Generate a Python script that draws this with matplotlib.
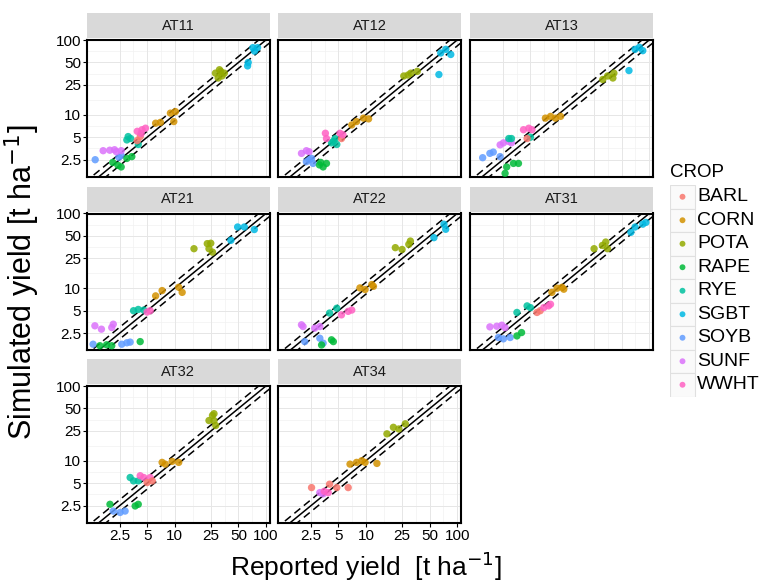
import numpy as np
import matplotlib
matplotlib.use("Agg")
import matplotlib.pyplot as plt
from matplotlib.patches import Rectangle

plt.rcParams["font.family"] = ["Liberation Sans", "DejaVu Sans"]

# ---------------- DATA ----------------

CROPS = ["BARL", "CORN", "POTA", "RAPE", "RYE", "SGBT", "SOYB", "SUNF", "WWHT"]
CROP_COLORS = ["#F8766D", "#D39200", "#93AA00", "#00BA38", "#00C19F",
               "#00B9E3", "#619CFF", "#DB72FB", "#FF61C3"]

PANELS = ["AT11", "AT12", "AT13", "AT21", "AT22", "AT31", "AT32", "AT34"]

AT11_CROP = ["SOYB"] * 3 + ["SUNF"] * 5 + ["RAPE"] * 5 + ["RYE"] * 4 + ["BARL"] * 2 + \
    ["WWHT"] * 4 + ["CORN"] * 5 + ["POTA"] * 6 + ["SGBT"] * 5
AT11_REP = [1.35, 2.45, 2.6, 1.65, 1.95, 2.2, 2.6, 2.3, 2.1, 2.6, 3.0, 3.4, 2.4,
            3.0, 3.1, 4.0, 3.3, 4.2, 3.9, 3.9, 4.4, 4.8, 4.3, 6.2, 7.0, 9.0, 10.2, 9.8,
            28, 32, 33, 35, 30, 31, 63, 72, 81, 75, 64]
AT11_SIM = [2.5, 2.7, 2.85, 3.3, 3.35, 3.4, 3.3, 3.2, 2.3, 2.0, 2.6, 2.75, 2.1,
            4.6, 5.1, 4.0, 4.8, 5.1, 4.5, 6.0, 6.3, 6.6, 5.6, 7.7, 7.9, 10.5, 11, 8.1,
            36, 38, 33, 36, 31, 40, 45, 79, 79, 71, 50]

AT12_CROP = ["SUNF"] * 3 + ["SOYB"] * 4 + ["RAPE"] * 4 + ["RYE"] * 4 + ["BARL"] + \
    ["WWHT"] * 4 + ["CORN"] * 4 + ["POTA"] * 4 + ["SGBT"] * 4
AT12_REP = [1.97, 2.23, 2.39, 2.23, 2.54, 2.64, 2.4, 3.1, 3.4, 3.7, 3.2,
            4.4, 4.6, 4.8, 4.2, 5.4, 3.6, 3.7, 5.2, 5.6, 7.0, 7.9, 9.4, 10.7,
            26, 31, 36.5, 29, 63, 66, 75, 85]
AT12_SIM = [3.04, 3.3, 3.2, 2.35, 2.6, 2.23, 2.5, 2.13, 2.0, 2.23, 2.3,
            4.4, 4.8, 4.0, 4.2, 4.8, 5.65, 4.8, 5.65, 5.4, 7.3, 8.1, 9.0, 8.8,
            33, 36, 38, 34, 34.5, 67, 75, 64]

AT13_CROP = ["SOYB"] * 4 + ["SUNF"] * 4 + ["RYE"] * 3 + ["RAPE"] * 4 + ["WWHT"] * 3 + \
    ["BARL"] + ["CORN"] * 4 + ["POTA"] * 4 + ["SGBT"] * 4
AT13_REP = [1.5, 1.8, 1.96, 2.33, 2.33, 2.53, 2.87, 3.1, 2.9, 3.1, 5.0,
            2.64, 2.75, 3.26, 3.7, 4.2, 4.8, 5.2, 4.6, 7.3, 8.3, 9.4, 10.7,
            31, 35, 40, 41, 60, 70, 78, 85]
AT13_SIM = [2.66, 3.04, 3.16, 2.75, 3.95, 4.2, 4.4, 4.2, 4.8, 4.8, 5.0,
            1.64, 2.0, 2.23, 2.23, 6.3, 6.6, 6.3, 4.8, 9.0, 9.5, 9.0, 9.5,
            29.6, 33, 31, 36, 39, 75, 80, 72]

AT21_CROP = ["SOYB"] * 4 + ["RAPE"] * 4 + ["SUNF"] * 4 + ["RYE"] * 3 + ["WWHT"] * 2 + \
    ["CORN"] * 4 + ["POTA"] * 5 + ["SGBT"] * 4
AT21_REP = [1.28, 2.64, 3.0, 3.26, 1.52, 1.8, 2.05, 4.2, 1.34, 1.58, 2.05, 2.13,
            3.55, 4.0, 4.6, 5.0, 5.4, 6.2, 7.3, 11.1, 12.1,
            16.3, 22.8, 24.9, 23.8, 26, 41.3, 49, 58, 74.6]
AT21_SIM = [1.78, 1.78, 1.86, 1.9, 1.7, 1.75, 1.7, 1.93, 3.14, 2.83, 2.98, 3.3,
            5.0, 5.2, 5.1, 4.8, 5.0, 7.9, 9.3, 10.3, 8.8,
            33.8, 39.5, 40, 33.8, 30.4, 43.7, 66, 66, 61]

AT22_CROP = ["SUNF"] * 4 + ["SOYB"] * 3 + ["RAPE"] * 3 + ["RYE"] * 2 + ["WWHT"] * 3 + \
    ["CORN"] * 4 + ["POTA"] * 4 + ["SGBT"] * 3
AT22_REP = [1.97, 2.05, 2.75, 3.13, 2.14, 3.13, 3.4, 3.27, 4.2, 4.4, 4.0, 4.8,
            5.4, 6.4, 7.0, 8.6, 9.8, 11.6, 12.1, 21, 24.9, 30.7, 29.5, 55.6, 71.6, 74.8]
AT22_SIM = [3.24, 3.07, 2.92, 3.07, 1.93, 2.14, 1.84, 1.74, 2.04, 1.93, 4.65, 5.4,
            4.4, 4.9, 5.1, 10.1, 9.6, 11.2, 10.6, 34.9, 33, 42.8, 38.7, 47.5, 71.8, 61.5]

AT31_CROP = ["SUNF"] * 4 + ["SOYB"] * 3 + ["RAPE"] * 2 + ["RYE"] * 3 + ["BARL"] * 2 + \
    ["WWHT"] * 3 + ["CORN"] * 4 + ["POTA"] * 4 + ["SGBT"] * 4
AT31_REP = [1.8, 2.14, 2.43, 2.64, 2.23, 2.53, 3.0, 3.56, 4.0, 3.56, 4.6, 5.0,
            5.9, 6.4, 7.0, 7.9, 8.3, 8.6, 9.8, 11.1, 11.6,
            24.9, 30.7, 33.4, 34.9, 63, 70, 85, 92]
AT31_SIM = [3.04, 3.1, 3.2, 2.97, 2.19, 2.1, 2.19, 2.3, 2.55, 4.74, 5.8, 5.5,
            4.74, 5.0, 5.5, 5.8, 6.1, 8.8, 10.0, 10.3, 9.7,
            33.8, 37.4, 41.5, 33.8, 56, 66, 72, 76]

AT32_CROP = ["SOYB"] * 3 + ["RAPE"] * 3 + ["RYE"] * 3 + ["WWHT"] * 3 + ["BARL"] * 2 + \
    ["CORN"] * 4 + ["POTA"] * 5
AT32_REP = [2.13, 2.53, 2.87, 1.96, 3.7, 4.0, 3.26, 3.55, 4.0, 4.2, 4.6, 5.4,
            5.0, 5.7, 7.3, 7.9, 9.4, 11.1, 23.8, 26, 27, 28.2, 27]
AT32_SIM = [2.12, 2.03, 2.12, 2.61, 2.48, 2.61, 5.96, 5.37, 5.37, 6.3, 5.96, 5.96,
            5.1, 5.37, 9.5, 9.0, 9.8, 9.5, 34.5, 40.4, 42.6, 29.6, 34.5]

AT34_CROP = ["BARL"] * 4 + ["SUNF"] * 2 + ["WWHT"] * 2 + ["CORN"] * 5 + ["POTA"] * 4
AT34_REP = [2.54, 4.0, 4.8, 6.4, 3.13, 3.4, 3.87, 3.5, 6.7, 7.9, 9.0, 9.8, 13.2,
            17, 20, 22.9, 27]
AT34_SIM = [4.37, 4.85, 4.37, 4.37, 3.74, 3.6, 3.74, 3.9, 9.0, 9.5, 10.0, 9.5, 9.2,
            22.9, 28, 26.6, 31.2]

PANEL_DATA = {
    "AT11": (AT11_CROP, AT11_REP, AT11_SIM),
    "AT12": (AT12_CROP, AT12_REP, AT12_SIM),
    "AT13": (AT13_CROP, AT13_REP, AT13_SIM),
    "AT21": (AT21_CROP, AT21_REP, AT21_SIM),
    "AT22": (AT22_CROP, AT22_REP, AT22_SIM),
    "AT31": (AT31_CROP, AT31_REP, AT31_SIM),
    "AT32": (AT32_CROP, AT32_REP, AT32_SIM),
    "AT34": (AT34_CROP, AT34_REP, AT34_SIM),
}

TICKS = [2.5, 5, 10, 25, 50, 100]
TICK_LABELS = ["2.5", "5", "10", "25", "50", "100"]
XLIM = (1.09, 110)
YLIM = (1.49, 100)

# ---------------- LAYOUT (pixels) ----------------

W, H = 761, 582
COL_LEFT = [86.7, 278.0, 470.0]
ROW_TOP = [40.0, 213.5, 386.0]
PANEL_W = 183.0
PANEL_H = 136.5
STRIP_H = 25.0
STRIP_GAP = 2.0


def fig_rect(left, top, width, height):
    return [left / W, 1 - (top + height) / H, width / W, height / H]


fig = plt.figure(figsize=(W / 100, H / 100), dpi=100)
color_of = dict(zip(CROPS, CROP_COLORS))

# minor breaks at midpoints in log space
major = np.log10(TICKS)
minor = 10 ** ((major[:-1] + major[1:]) / 2)

for i, name in enumerate(PANELS):
    row, col = divmod(i, 3)
    left, top = COL_LEFT[col], ROW_TOP[row]
    ax = fig.add_axes(fig_rect(left, top, PANEL_W, PANEL_H))
    ax.set_xscale("log")
    ax.set_yscale("log")
    ax.set_xlim(XLIM)
    ax.set_ylim(YLIM)

    for v in minor:
        ax.axvline(v, color="#F2F2F2", lw=0.5, zorder=0)
        ax.axhline(v, color="#F2F2F2", lw=0.5, zorder=0)
    for v in TICKS:
        ax.axvline(v, color="#E6E6E6", lw=0.7, zorder=0)
        ax.axhline(v, color="#E6E6E6", lw=0.7, zorder=0)

    line_x = np.array([0.5, 200])
    ax.plot(line_x, line_x, color="black", lw=1.1, zorder=2)
    ax.plot(line_x, line_x * 1.2, color="black", lw=1.1, ls=(0, (5, 3)), zorder=2)
    ax.plot(line_x, line_x / 1.2, color="black", lw=1.1, ls=(0, (5, 3)), zorder=2)

    crops, rep, sim = PANEL_DATA[name]
    cols = [color_of[c] for c in crops]
    ax.scatter(rep, sim, s=28, c=cols, alpha=0.85, edgecolors="none", zorder=3)

    ax.set_xticks(TICKS)
    ax.set_yticks(TICKS)
    ax.xaxis.set_minor_locator(matplotlib.ticker.NullLocator())
    ax.yaxis.set_minor_locator(matplotlib.ticker.NullLocator())

    show_y = col == 0
    show_x = name in ("AT32", "AT34")
    ax.set_yticklabels(TICK_LABELS if show_y else [])
    ax.set_xticklabels(TICK_LABELS if show_x else [])
    ax.tick_params(axis="y", length=3 if show_y else 0, width=0.8, pad=1,
                   labelsize=11, colors="black")
    ax.tick_params(axis="x", length=3 if show_x else 0, width=0.8, pad=2,
                   labelsize=11, colors="black")
    for s in ax.spines.values():
        s.set_linewidth(1.5)
        s.set_color("black")

    strip = fig.add_axes(fig_rect(left, top - STRIP_GAP - STRIP_H, PANEL_W, STRIP_H))
    strip.set_facecolor("#D9D9D9")
    strip.set_xticks([])
    strip.set_yticks([])
    for s in strip.spines.values():
        s.set_visible(False)
    strip.text(0.5, 0.5, name, ha="center", va="center", fontsize=10.5, color="#1A1A1A")

# axis titles
fig.text(366 / W, 1 - 566 / H,
         "Reported yield  [t ha$^{-1}$]", ha="center", va="center", fontsize=19)
fig.text(22 / W, 1 - 282 / H, "Simulated yield [t ha$^{-1}$]", ha="center",
         va="center", rotation=90, fontsize=22)

# legend
KEY_LEFT, KEY_TOP, KEY_W, KEY_H = 670.0, 185.0, 25.0, 23.5
fig.text(KEY_LEFT / W, 1 - 172 / H, "CROP", ha="left", va="center", fontsize=13.5)
leg = fig.add_axes(fig_rect(KEY_LEFT, KEY_TOP, 90, KEY_H * len(CROPS)))
leg.set_xlim(0, 90 / KEY_W)
leg.set_ylim(len(CROPS), 0)
leg.axis("off")
for k, (crop, colr) in enumerate(zip(CROPS, CROP_COLORS)):
    leg.add_patch(Rectangle((0, k), 1, 1, facecolor="#FAFAFA", edgecolor="#E0E0E0", lw=0.8))
    leg.scatter([0.5], [k + 0.5], s=18, color=colr, alpha=0.85, edgecolors="none")
    leg.text(1.08, k + 0.5, crop, ha="left", va="center", fontsize=14)

fig.savefig("out.png", dpi=100)
